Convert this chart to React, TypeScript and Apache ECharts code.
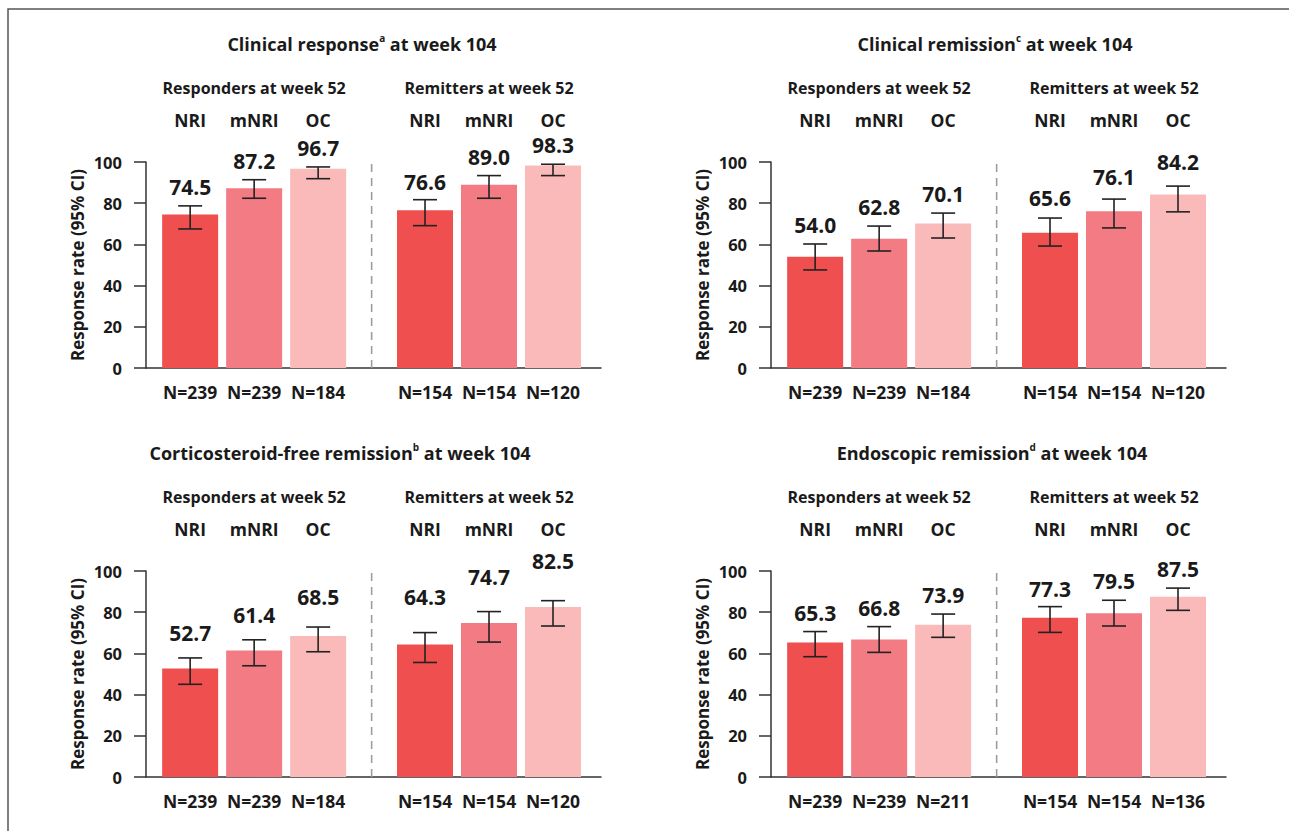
import React, { useEffect, useRef } from 'react';
import * as echarts from 'echarts';

const METHODS = ['NRI', 'mNRI', 'OC'];
const GROUPS = ['Responders at week 52', 'Remitters at week 52'];

// Clinical response at week 104
const clinicalResponseValues = [74.5, 87.2, 96.7, 76.6, 89.0, 98.3];
const clinicalResponseLow = [67.5, 82.4, 91.9, 69.1, 82.4, 93.4];
const clinicalResponseHigh = [78.7, 91.4, 97.6, 81.7, 93.4, 98.9];
const clinicalResponseN = [239, 239, 184, 154, 154, 120];

// Clinical remission at week 104
const clinicalRemissionValues = [54.0, 62.8, 70.1, 65.6, 76.1, 84.2];
const clinicalRemissionLow = [47.6, 56.8, 63.1, 59.2, 68.0, 75.8];
const clinicalRemissionHigh = [60.2, 68.9, 75.2, 72.8, 82.0, 88.3];
const clinicalRemissionN = [239, 239, 184, 154, 154, 120];

// Corticosteroid-free remission at week 104
const cfRemissionValues = [52.7, 61.4, 68.5, 64.3, 74.7, 82.5];
const cfRemissionLow = [45.0, 54.0, 60.8, 55.6, 65.5, 73.3];
const cfRemissionHigh = [57.8, 66.6, 72.8, 70.1, 80.3, 85.6];
const cfRemissionN = [239, 239, 184, 154, 154, 120];

// Endoscopic remission at week 104
const endoRemissionValues = [65.3, 66.8, 73.9, 77.3, 79.5, 87.5];
const endoRemissionLow = [58.4, 60.5, 67.8, 70.2, 73.3, 80.9];
const endoRemissionHigh = [70.6, 73.0, 79.1, 82.7, 85.8, 91.7];
const endoRemissionN = [239, 239, 211, 154, 154, 136];

const PANELS = [
  { title: 'Clinical response', sup: 'a', values: clinicalResponseValues, low: clinicalResponseLow, high: clinicalResponseHigh, n: clinicalResponseN },
  { title: 'Clinical remission', sup: 'c', values: clinicalRemissionValues, low: clinicalRemissionLow, high: clinicalRemissionHigh, n: clinicalRemissionN },
  { title: 'Corticosteroid-free remission', sup: 'b', values: cfRemissionValues, low: cfRemissionLow, high: cfRemissionHigh, n: cfRemissionN },
  { title: 'Endoscopic remission', sup: 'd', values: endoRemissionValues, low: endoRemissionLow, high: endoRemissionHigh, n: endoRemissionN },
];

// layout (pixels)
const LAYOUT = [
  { left: 146, top: 162, titleX: 362, titleY: 44, labelGap: [19, 19, 19, 18, 19, 19] },
  { left: 771, top: 162, titleX: 995, titleY: 44, labelGap: [19, 19, 19, 20, 22, 24] },
  { left: 146, top: 571, titleX: 340, titleY: 453, labelGap: [25, 25, 30, 36, 35, 40] },
  { left: 771, top: 571, titleX: 992, titleY: 453, labelGap: [19, 19, 19, 18, 19, 19] },
];
const GRID_W = 455;
const GRID_H = 206;
const GROUP_STEP = 3.67;
const X_MIN = -0.69;
const X_MAX = 6.42;
const COLORS = ['#EF4F4E', '#F27B84', '#F9BAB9'];
const FONT = '"Open Sans", "Noto Sans", sans-serif';
const WEIGHT = 'bold';
const TEXT = '#1a1a1a';
const AXIS = '#333333';

const xPos = (i: number) => Math.floor(i / 3) * GROUP_STEP + (i % 3);

function txt(text: string, x: number, y: number, size: number) {
  return {
    type: 'text',
    x,
    y,
    style: {
      text,
      fill: TEXT,
      fontSize: size,
      fontWeight: WEIGHT,
      fontFamily: FONT,
      align: 'center',
      verticalAlign: 'middle',
      textAlign: 'center',
      textVerticalAlign: 'middle',
    },
  };
}

export default function App() {
  const ref = useRef<HTMLDivElement>(null);
  useEffect(() => {
    document.body.style.margin = '0';
    if (!ref.current) return;
    const chart = echarts.init(ref.current, null, { renderer: 'svg' });

    const grid: any[] = [];
    const xAxis: any[] = [];
    const yAxis: any[] = [];
    const series: any[] = [];
    const graphic: any[] = [
      {
        type: 'rect',
        shape: { x: 8, y: 9, width: 1400, height: 1000 },
        style: { fill: 'none', stroke: '#555', lineWidth: 1.5 },
        silent: true,
      },
    ];

    PANELS.forEach((p, k) => {
      const L = LAYOUT[k];
      grid.push({ left: L.left, top: L.top, width: GRID_W, height: GRID_H, containLabel: false });
      xAxis.push({
        type: 'value',
        gridIndex: k,
        min: X_MIN,
        max: X_MAX,
        axisLine: { show: true, onZero: false, lineStyle: { color: AXIS, width: 1.5 } },
        axisTick: { show: false },
        axisLabel: { show: false },
        splitLine: { show: false },
      });
      yAxis.push({
        type: 'value',
        gridIndex: k,
        min: 0,
        max: 100,
        interval: 20,
        name: 'Response rate (95% CI)',
        nameLocation: 'middle',
        nameGap: 60,
        nameTextStyle: { color: TEXT, fontSize: 17, fontWeight: WEIGHT, fontFamily: FONT },
        axisLine: { show: true, onZero: false, lineStyle: { color: AXIS, width: 1.5 } },
        axisTick: { show: true, length: 12, lineStyle: { color: AXIS, width: 1.5 } },
        axisLabel: { color: TEXT, fontSize: 16.5, fontWeight: WEIGHT, fontFamily: FONT, margin: 24 },
        splitLine: { show: false },
      });
      series.push({
        type: 'bar',
        xAxisIndex: k,
        yAxisIndex: k,
        barWidth: 56,
        data: p.values.map((v, i) => ({ value: [xPos(i), v], itemStyle: { color: COLORS[i % 3] } })),
      });
      series.push({
        type: 'custom',
        xAxisIndex: k,
        yAxisIndex: k,
        clip: false,
        z: 5,
        encode: { x: 0, y: 1 },
        data: p.values.map((v, i) => [xPos(i), v, p.low[i], p.high[i], p.n[i]]),
        renderItem: (params: any, api: any) => {
          const i = params.dataIndex;
          const x = api.value(0);
          const lo = api.coord([x, api.value(2)]);
          const hi = api.coord([x, api.value(3)]);
          const top = api.coord([x, 100])[1];
          const bottom = api.coord([x, 0])[1];
          const cx = lo[0];
          const ls = { stroke: '#222', lineWidth: 1.6 };
          const children: any[] = [
            { type: 'line', shape: { x1: cx, y1: lo[1], x2: cx, y2: hi[1] }, style: ls },
            { type: 'line', shape: { x1: cx - 12, y1: lo[1], x2: cx + 12, y2: lo[1] }, style: ls },
            { type: 'line', shape: { x1: cx - 12, y1: hi[1], x2: cx + 12, y2: hi[1] }, style: ls },
            txt(Number(api.value(1)).toFixed(1), cx, hi[1] - L.labelGap[i], 21),
            txt(METHODS[i % 3], cx, top - 42, 17.5),
            txt('N=' + api.value(4), cx, bottom + 24, 17.5),
          ];
          if (i % 3 === 1) children.push(txt(GROUPS[Math.floor(i / 3)], cx, top - 74, 16));
          if (i % 3 === 2) {
            const dx = api.coord([(xPos(2) + xPos(3)) / 2, 0])[0];
            children.push({
              type: 'line',
              shape: { x1: dx, y1: bottom, x2: dx, y2: top },
              style: { stroke: '#9a9a9a', lineWidth: 1.3, lineDash: [8, 6] },
            });
          }
          return { type: 'group', children };
        },
      });
      graphic.push({
        type: 'text',
        x: L.titleX,
        y: L.titleY,
        style: {
          text: `{t|${p.title}}{s|${p.sup}}{t| at week 104}`,
          align: 'center',
          verticalAlign: 'middle',
          rich: {
            t: { fontSize: 18, fontWeight: WEIGHT, fontFamily: FONT, fill: TEXT, color: TEXT, lineHeight: 22 },
            s: { fontSize: 10, fontWeight: WEIGHT, fontFamily: FONT, fill: TEXT, color: TEXT, lineHeight: 12, verticalAlign: 'top' },
          },
        },
      });
    });

    chart.setOption({
      animation: false,
      backgroundColor: '#ffffff',
      grid,
      xAxis,
      yAxis,
      series,
      graphic,
    });
    return () => chart.dispose();
  }, []);
  return <div ref={ref} style={{ width: 1289, height: 831 }} />;
}
